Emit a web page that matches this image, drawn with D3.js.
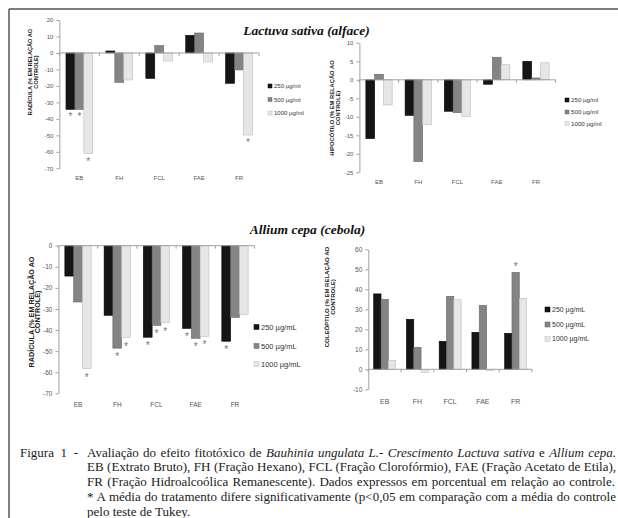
<!DOCTYPE html>
<html>
<head>
<meta charset="utf-8">
<script src="https://cdn.jsdelivr.net/npm/d3@7"></script>
<style>
  body { margin: 0; background: #fff; }
  svg { display: block; }
</style>
</head>
<body>
<svg id="fig" width="618" height="518"></svg>
<script>
const categories = ["EB", "FH", "FCL", "FAE", "FR"];
const legendMl = ["250 µg/ml", "500 µg/ml", "1000 µg/ml"];
const legendML = ["250 µg/mL", "500 µg/mL", "1000 µg/mL"];

// Lactuva sativa - radícula
const lacRad250 = [-34.2, 1.2, -15.4, 10.7, -18.4];
const lacRad500 = [-34.2, -17.8, 4.5, 12.1, -10.3];
const lacRad1000 = [-61.1, -16.4, -4.9, -5.5, -49.8];
const lacRadSig250 = [1, 0, 0, 0, 0];
const lacRadSig500 = [1, 0, 0, 0, 0];
const lacRadSig1000 = [1, 0, 0, 0, 1];
const lacRadTicks = [20, 10, 0, -10, -20, -30, -40, -50, -60, -70];

// Lactuva sativa - hipocótilo
const lacHip250 = [-15.9, -9.6, -8.5, -1.2, 5.0];
const lacHip500 = [1.5, -22.1, -8.9, 6.1, 0.5];
const lacHip1000 = [-6.8, -12.1, -9.9, 4.1, 4.6];
const lacHipSig250 = [0, 0, 0, 0, 0];
const lacHipSig500 = [0, 0, 0, 0, 0];
const lacHipSig1000 = [0, 0, 0, 0, 0];
const lacHipTicks = [10, 5, 0, -5, -10, -15, -20, -25];

// Allium cepa - radícula
const allRad250 = [-14.4, -33.0, -43.4, -39.2, -45.3];
const allRad500 = [-26.7, -48.6, -37.8, -43.9, -34.0];
const allRad1000 = [-58.3, -43.6, -36.5, -43.0, -32.5];
const allRadSig250 = [0, 0, 1, 1, 1];
const allRadSig500 = [0, 1, 1, 1, 0];
const allRadSig1000 = [1, 1, 1, 1, 0];
const allRadTicks = [0, -10, -20, -30, -40, -50, -60, -70];

// Allium cepa - coleóptilo
const allCol250 = [37.7, 25.0, 14.0, 18.5, 18.0];
const allCol500 = [35.0, 11.0, 36.5, 32.0, 48.5];
const allCol1000 = [4.5, -1.5, 34.8, -0.5, 35.5];
const allColSig250 = [0, 0, 0, 0, 0];
const allColSig500 = [0, 0, 0, 0, 1];
const allColSig1000 = [0, 0, 0, 0, 0];
const allColTicks = [60, 50, 40, 30, 20, 10, 0, -10];

const sans = "'Liberation Sans', Arial, sans-serif";
const serif = "'Liberation Serif', 'Times New Roman', serif";
const barFill = ["#151515", "#848484", "#e6e6e6"];
const barStroke = ["#000", "#666", "#bdbdbd"];

const svg = d3.select("#fig");

// frame
svg.append("line").attr("x1", 9).attr("y1", 9).attr("x2", 618).attr("y2", 9)
  .attr("stroke", "#555").attr("stroke-width", 1.5);
svg.append("line").attr("x1", 9).attr("y1", 9).attr("x2", 9).attr("y2", 518)
  .attr("stroke", "#555").attr("stroke-width", 1.5);

function drawPanel(p) {
  const g = svg.append("g");
  const x = d3.scaleBand().domain(categories).range([p.x0, p.x1])
    .paddingInner(0.33).paddingOuter(0.165);
  const xs = d3.scaleBand().domain([0, 1, 2]).range([0, x.bandwidth()]);
  const y = d3.scaleLinear().domain(p.domain).range([p.yBottom, p.yTop]);

  // y axis
  g.append("g")
    .attr("transform", `translate(${p.x0},0)`)
    .call(d3.axisLeft(y).tickValues(p.ticks).tickSize(3).tickSizeOuter(0)
      .tickPadding(3).tickFormat(d => String(d)))
    .attr("font-family", sans)
    .attr("font-size", p.tickFont)
    .call(a => a.select(".domain").attr("stroke", "#a0a0a0"))
    .call(a => a.selectAll(".tick line").attr("stroke", "#a0a0a0"))
    .call(a => a.selectAll(".tick text").attr("fill", "#555"));

  // category labels
  g.append("g")
    .attr("transform", `translate(0,${p.catY})`)
    .call(d3.axisBottom(x).tickSize(0).tickPadding(0))
    .attr("font-family", sans)
    .attr("font-size", p.catFont)
    .call(a => a.select(".domain").remove())
    .call(a => a.selectAll(".tick text").attr("fill", "#555").attr("dy", "0.35em"));

  // bars
  p.series.forEach((vals, i) => {
    g.append("g").selectAll("rect")
      .data(vals)
      .join("rect")
      .attr("x", (d, j) => x(categories[j]) + xs(i))
      .attr("y", d => Math.min(y(d), y(0)))
      .attr("width", xs.bandwidth())
      .attr("height", d => Math.abs(y(d) - y(0)))
      .attr("fill", barFill[i])
      .attr("stroke", barStroke[i])
      .attr("stroke-width", 0.6);
  });

  // zero line with category boundary ticks
  g.append("line")
    .attr("x1", p.x0).attr("x2", p.x1)
    .attr("y1", y(0)).attr("y2", y(0))
    .attr("stroke", "#a0a0a0");
  g.append("g").selectAll("line")
    .data(d3.range(categories.length + 1))
    .join("line")
    .attr("x1", i => p.x0 + i * x.step()).attr("x2", i => p.x0 + i * x.step())
    .attr("y1", y(0)).attr("y2", y(0) + 3)
    .attr("stroke", "#a0a0a0");

  // significance asterisks
  p.sig.forEach((flags, i) => {
    flags.forEach((f, j) => {
      if (!f) return;
      const v = p.series[i][j];
      g.append("text")
        .attr("x", x(categories[j]) + xs(i) + xs.bandwidth() / 2)
        .attr("y", v < 0 ? y(v) + p.starOff + 7 : y(v) - p.starOff + 3)
        .attr("text-anchor", "middle")
        .attr("font-family", sans)
        .attr("font-size", 10)
        .attr("fill", "#777")
        .text("*");
    });
  });

  // legend
  const lg = g.append("g").attr("font-family", sans).attr("font-size", p.legFont).attr("fill", "#333");
  p.legend.forEach((name, i) => {
    const ly = p.legY[i];
    lg.append("rect")
      .attr("x", p.legX).attr("y", ly - p.legBox / 2)
      .attr("width", p.legBox).attr("height", p.legBox)
      .attr("fill", barFill[i]).attr("stroke", barStroke[i]).attr("stroke-width", 0.5);
    lg.append("text")
      .attr("x", p.legX + p.legBox + 2).attr("y", ly).attr("dy", "0.35em")
      .text(name);
  });

  // y label
  const yl = g.append("g")
    .attr("transform", `translate(${p.ylX},${p.ylY}) rotate(-90)`)
    .attr("font-family", sans).attr("font-size", p.ylFont)
    .attr("font-weight", "bold").attr("fill", "#222")
    .attr("text-anchor", "middle");
  p.ylabel.forEach((t, i) => {
    yl.append("text").attr("x", 0).attr("y", i * p.ylGap).attr("dy", "0.35em").text(t);
  });
}

drawPanel({
  series: [lacRad250, lacRad500, lacRad1000],
  sig: [lacRadSig250, lacRadSig500, lacRadSig1000],
  ticks: lacRadTicks, domain: [-70, 20],
  x0: 59.4, x1: 259, yBottom: 168.3, yTop: 20,
  tickFont: 6, catY: 178, catFont: 6, starOff: 4,
  legend: legendMl, legX: 268, legY: [86, 99.5, 113], legBox: 4, legFont: 6,
  ylabel: ["RADÍCULA (% EM RELAÇÃO AO", "CONTROLE)"], ylX: 30, ylY: 72, ylFont: 5.6, ylGap: 5.8
});

drawPanel({
  series: [lacHip250, lacHip500, lacHip1000],
  sig: [lacHipSig250, lacHipSig500, lacHipSig1000],
  ticks: lacHipTicks, domain: [-25, 10],
  x0: 359.4, x1: 555.6, yBottom: 172.3, yTop: 42.8,
  tickFont: 6, catY: 181.5, catFont: 6, starOff: 4,
  legend: legendMl, legX: 565, legY: [100, 112, 123.5], legBox: 4, legFont: 6.2,
  ylabel: ["HIPOCÓTILO (% EM RELAÇÃO AO", "CONTROLE)"], ylX: 332, ylY: 108, ylFont: 5.8, ylGap: 5.8
});

drawPanel({
  series: [allRad250, allRad500, allRad1000],
  sig: [allRadSig250, allRadSig500, allRadSig1000],
  ticks: allRadTicks, domain: [-70, 0],
  x0: 58.4, x1: 254.6, yBottom: 393.3, yTop: 245.7,
  tickFont: 6.5, catY: 405, catFont: 6.5, starOff: 5,
  legend: legendML, legX: 254, legY: [327, 346, 364], legBox: 5, legFont: 7.5,
  ylabel: ["RADÍCULA (% EM RELAÇÃO AO", "CONTROLE)"], ylX: 31, ylY: 312, ylFont: 7.2, ylGap: 6.8
});

drawPanel({
  series: [allCol250, allCol500, allCol1000],
  sig: [allColSig250, allColSig500, allColSig1000],
  ticks: allColTicks, domain: [-10, 60],
  x0: 368.3, x1: 532, yBottom: 389.3, yTop: 249.3,
  tickFont: 6.5, catY: 402, catFont: 7, starOff: 5,
  legend: legendML, legX: 545, legY: [309.5, 324.5, 339], legBox: 5, legFont: 7,
  ylabel: ["COLEÓPTILO (% EM RELAÇÃO AO", "CONTROLE)"], ylX: 327, ylY: 297, ylFont: 6, ylGap: 5.8
});

// panel titles
svg.append("text").attr("x", 306.5).attr("y", 34.5).attr("text-anchor", "middle")
  .attr("font-family", serif).attr("font-size", 13.5).attr("font-weight", "bold")
  .attr("font-style", "italic").attr("fill", "#111").text("Lactuva sativa (alface)");
svg.append("text").attr("x", 307.5).attr("y", 233.5).attr("text-anchor", "middle")
  .attr("font-family", serif).attr("font-size", 13.5).attr("font-weight", "bold")
  .attr("font-style", "italic").attr("fill", "#111").text("Allium cepa (cebola)");

// caption
const captionLines = [
  [["Avaliação do efeito fitotóxico de ", false], ["Bauhinia ungulata L.- Crescimento Lactuva sativa", true], [" e ", false], ["Allium cepa.", true]],
  [["EB (Extrato Bruto), FH (Fração Hexano), FCL (Fração Clorofórmio), FAE (Fração Acetato de Etila),", false]],
  [["FR (Fração Hidroalcoólica Remanescente). Dados expressos em porcentual em relação ao controle.", false]],
  [["* A média do tratamento difere significativamente (p<0,05 em comparação com a média do controle", false]],
  [["pelo teste de Tukey.", false]]
];
const captionBase = [456.5, 471.3, 486.1, 500.9, 515.5];
const captionEnd = [616, 616, 615, 616, null];

function justify(t, str, x0, x1) {
  const natural = t.node().getComputedTextLength();
  const spaces = str.split(" ").length - 1;
  t.attr("word-spacing", (x1 - x0 - natural) / spaces);
}

const fig = svg.append("text").attr("x", 20).attr("y", captionBase[0])
  .attr("font-family", serif).attr("font-size", 13).attr("fill", "#1a1a1a")
  .text("Figura 1 -");
justify(fig, "Figura 1 -", 20, 78);

captionLines.forEach((segs, i) => {
  const t = svg.append("text").attr("x", 87).attr("y", captionBase[i])
    .attr("font-family", serif).attr("font-size", 13).attr("fill", "#1a1a1a")
    .style("white-space", "pre");
  segs.forEach(([s, it]) => t.append("tspan").attr("font-style", it ? "italic" : "normal").text(s));
  if (captionEnd[i]) justify(t, segs.map(s => s[0]).join(""), 87, captionEnd[i]);
});
</script>
</body>
</html>
